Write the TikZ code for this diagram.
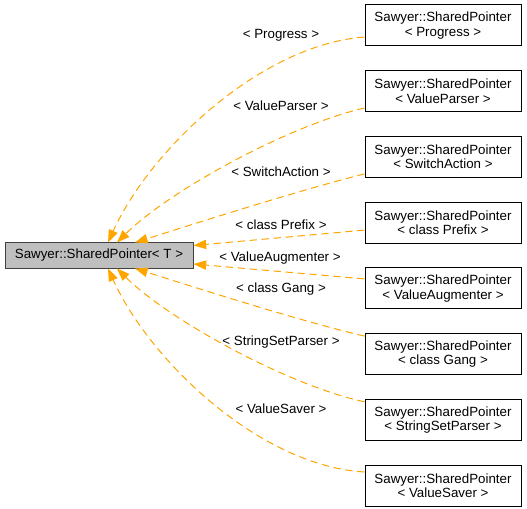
\documentclass[tikz,border=0pt]{standalone}
\usepackage{fontspec}
\setmainfont{Liberation Sans}
\usetikzlibrary{arrows.meta,calc}
\definecolor{edgeorange}{RGB}{255,165,0}
\definecolor{basefill}{RGB}{191,191,191}
\definecolor{baseborder}{RGB}{64,64,64}
\tikzset{
  basebox/.style={draw=baseborder,fill=basefill,line width=0.75pt,minimum width=141pt,minimum height=18.75pt,inner sep=0pt,font=\fontsize{10}{12}\selectfont},
  derivedbox/.style={draw=black,fill=white,line width=0.75pt,minimum width=117pt,minimum height=30.75pt,inner sep=0pt,align=center,font=\fontsize{10}{10.8}\selectfont},
  edgelabel/.style={inner sep=0pt,font=\fontsize{10}{12}\selectfont},
  inherit/.style={draw=edgeorange,line width=0.75pt,dash pattern=on 5.5pt off 3.5pt,-{Triangle[length=9.5pt,width=7pt,fill=edgeorange,color=edgeorange]}}
}
\begin{document}
\begin{tikzpicture}[x=0.75pt,y=-0.75pt]
\useasboundingbox (0,0) rectangle (527,509);
\node[basebox] (base) at (99,255.5) {Sawyer::SharedPointer< T >};
\node[derivedbox] (r1) at (443,25.5) {Sawyer::SharedPointer\\< Progress >};
\node[derivedbox] (r2) at (443,91.2) {Sawyer::SharedPointer\\< ValueParser >};
\node[derivedbox] (r3) at (443,156.9) {Sawyer::SharedPointer\\< SwitchAction >};
\node[derivedbox] (r4) at (443,222.6) {Sawyer::SharedPointer\\< class Prefix >};
\node[derivedbox] (r5) at (443,288.4) {Sawyer::SharedPointer\\< ValueAugmenter >};
\node[derivedbox] (r6) at (443,354.1) {Sawyer::SharedPointer\\< class Gang >};
\node[derivedbox] (r7) at (443,419.8) {Sawyer::SharedPointer\\< StringSetParser >};
\node[derivedbox] (r8) at (443,485.5) {Sawyer::SharedPointer\\< ValueSaver >};
\node[edgelabel] (l1) at (281,35) {< Progress >};
\node[edgelabel] (l2) at (281,106) {< ValueParser >};
\node[edgelabel] (l3) at (281,172) {< SwitchAction >};
\node[edgelabel] (l4) at (281,225) {< class Prefix >};
\node[edgelabel] (l5) at (280,258) {< ValueAugmenter >};
\node[edgelabel] (l6) at (281,289.5) {< class Gang >};
\node[edgelabel] (l7) at (281,342) {< StringSetParser >};
\node[edgelabel] (l8) at (281,408.5) {< ValueSaver >};
\draw[inherit] ($(r1.west)+(0,11.5)$) .. controls (260,45) and (150,150) .. ($(base.north)+(9,0)$);
\draw[inherit] ($(r2.west)+(0,16.8)$) .. controls (290,125) and (170,190) .. ($(base.north)+(18,0)$);
\draw[inherit] ($(r3.west)+(0,17)$) .. controls (300,190) and (200,222) .. ($(base.north)+(36,0)$);
\draw[inherit] ($(r4.west)+(0,7.5)$) -- ($(base.east)+(0,-10)$);
\draw[inherit] ($(r5.west)+(0,-9.5)$) -- ($(base.east)+(0,8.5)$);
\draw[inherit] ($(r6.west)+(0,-18)$) .. controls (300,321) and (200,289) .. ($(base.south)+(36,0)$);
\draw[inherit] ($(r7.west)+(0,-18)$) .. controls (290,386) and (170,321) .. ($(base.south)+(18,0)$);
\draw[inherit] ($(r8.west)+(0,-13.5)$) .. controls (260,466) and (150,361) .. ($(base.south)+(9,0)$);
\end{tikzpicture}
\end{document}
